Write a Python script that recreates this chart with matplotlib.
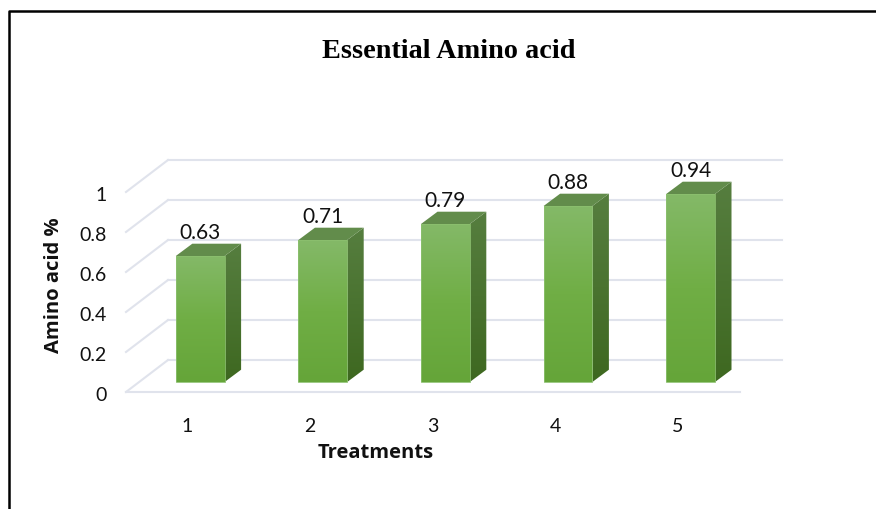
import numpy as np
import matplotlib
matplotlib.use('Agg')
import matplotlib.pyplot as plt
from matplotlib.colors import LinearSegmentedColormap
from matplotlib.patches import Polygon

# values
treatments = [1, 2, 3, 4, 5]
amino_acid = [0.63, 0.71, 0.79, 0.88, 0.94]
y_ticks = [0, 0.2, 0.4, 0.6, 0.8, 1]
y_tick_labels = ['0', '0.2', '0.4', '0.6', '0.8', '1']

W, H = 876, 509
fig = plt.figure(figsize=(W / 100, H / 100), dpi=100)
ax = fig.add_axes([0, 0, 1, 1])

# pixel layout of the fake 3D chart: bar centre 1 at 200.2, 122.6 px per category
x0, x_step = 200.2, 122.6
y0, y_step = 382, 200
ax.set_xlim(1 - x0 / x_step, 1 + (W - x0) / x_step)
ax.set_ylim((y0 - H) / y_step, y0 / y_step)
ax.axis('off')


def px(n):
    return n / x_step


def py(n):
    return n / y_step


bar_w = px(48.8)
depth_x, depth_y = px(16.5), py(12.3)

# floor offset of the front plane and the back wall
front_dx, front_dy = px(-13), py(-10)
back_dy = py(22)
grid_color = '#e0e3ec'
left = 1 - px(74.2)

for t in y_ticks:
    ax.plot([left, left + px(42)], [t + front_dy, t + back_dy], color=grid_color, lw=1.5, zorder=1)
    ax.plot([left + px(42), left + px(42) + px(614)], [t + back_dy, t + back_dy], color=grid_color, lw=1.5, zorder=1)
ax.plot([left, left + px(614)], [front_dy, front_dy], color=grid_color, lw=1.5, zorder=1)

front_cmap = LinearSegmentedColormap.from_list('front', ['#84b968', '#70ae45', '#65a539'])
side_cmap = LinearSegmentedColormap.from_list('side', ['#567e3f', '#4a7330', '#3e6820'])
grad = np.linspace(0, 1, 128).reshape(-1, 1)

for t, v in zip(treatments, amino_acid):
    l, r = t - bar_w / 2, t + bar_w / 2
    # front face
    im = ax.imshow(grad, cmap=front_cmap, extent=[l, r, 0, v], aspect='auto', zorder=3)
    front = Polygon([(l, 0), (r, 0), (r, v), (l, v)], closed=True, fc='none', ec='#8cc06f', lw=0.6, zorder=4)
    ax.add_patch(front)
    im.set_clip_path(front)
    # side face
    side = Polygon([(r, 0), (r + depth_x, depth_y), (r + depth_x, v + depth_y), (r, v)],
                   closed=True, fc='none', ec='none', zorder=3)
    ax.add_patch(side)
    im2 = ax.imshow(grad, cmap=side_cmap, extent=[r, r + depth_x, 0, v + depth_y], aspect='auto', zorder=3)
    im2.set_clip_path(side)
    # top face
    ax.add_patch(Polygon([(l, v), (r, v), (r + depth_x, v + depth_y), (l + depth_x, v + depth_y)],
                         closed=True, fc='#628c4b', ec='none', zorder=3))
    ax.text(t, v + py(23), f'{v:.2f}', ha='center', va='center', fontsize=15, family='Lato',
            color='#111111', zorder=5)
    ax.text(t + front_dx, py(-44), str(t), ha='center', va='center', fontsize=14, family='Lato',
            color='#111111')

ax.set_xlim(1 - x0 / x_step, 1 + (W - x0) / x_step)
ax.set_ylim((y0 - H) / y_step, y0 / y_step)

for t, lab in zip(y_ticks, y_tick_labels):
    ax.text(left - px(19), t + front_dy - py(3.5), lab, ha='right', va='center', fontsize=14,
            family='Lato', color='#111111')

fig.text(449 / W, 1 - 51.5 / H, 'Essential Amino acid', ha='center', va='center', fontsize=20.3,
         fontweight='bold', family='Liberation Serif', color='black')
fig.text(54 / W, 1 - 285 / H, 'Amino acid %', rotation=90, ha='center', va='center', fontsize=14.5,
         fontweight='bold', family='Open Sans', color='#111111')
fig.text(376 / W, 1 - 452.5 / H, 'Treatments', ha='center', va='center', fontsize=14.5,
         fontweight='bold', family='Open Sans', color='#111111')

# page border, top and left only
fig.add_artist(plt.Line2D([8.5 / W, 8.5 / W, 1], [0, 1 - 11 / H, 1 - 11 / H], color='black', lw=1.8))

fig.savefig('out.png', dpi=100)
